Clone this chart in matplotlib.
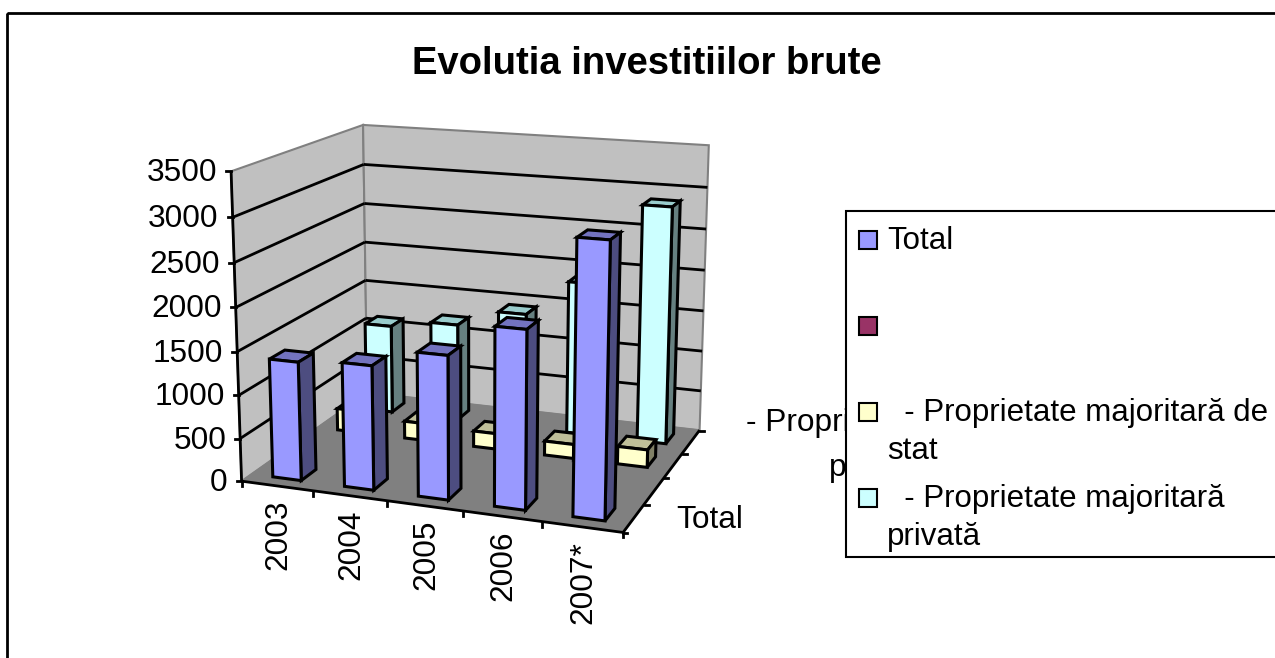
import numpy as np
import matplotlib
matplotlib.use("Agg")
import matplotlib.pyplot as plt
from matplotlib.patches import Polygon, Rectangle

plt.rcParams['font.family'] = ['Liberation Sans', 'DejaVu Sans']

# ---- data
title = "Evolutia investitiilor brute"
categories = ["2003", "2004", "2005", "2006", "2007*"]
total = [1375, 1425, 1630, 2000, 3020]
stat = [270, 210, 190, 170, 210]
private = [1110, 1210, 1425, 1875, 2865]
z_ticks = [0, 500, 1000, 1500, 2000, 2500, 3000, 3500]
legend_labels = ["Total", "", "  - Proprietate majoritară de\nstat", "  - Proprietate majoritară\nprivată"]
depth_labels = ["Total", "- Propri", "p"]

W, H = 1275, 658
FS = 22.8
FS_LEG = 22.5
fig = plt.figure(figsize=(W / 100, H / 100), dpi=100)
ax = fig.add_axes([0, 0, 1, 1])
ax.set_xlim(0, W)
ax.set_ylim(H, 0)
ax.axis("off")

# ---- projective camera fitted to the box corners (category, series, value) -> pixels
NX, NY, ZMAX = len(categories), 4, z_ticks[-1]
box = [(0, 0, ZMAX), (0, NY, ZMAX), (NX, NY, ZMAX), (0, 0, 0), (NX, 0, 0), (NX, NY, 0), (0, NY, 0)]
pix = [(230.7, 171), (363.5, 125), (708.7, 145.5), (242.3, 481), (622.7, 533), (700, 429.5), (366.5, 393)]
A = []
for (x, y, z), (u, v) in zip(box, pix):
    A.append([x, y, z, 1, 0, 0, 0, 0, -u * x, -u * y, -u * z])
    A.append([0, 0, 0, 0, x, y, z, 1, -v * x, -v * y, -v * z])
b = np.array(pix).ravel()
P = np.append(np.linalg.lstsq(np.array(A, float), b, rcond=None)[0], 1.0).reshape(3, 4)


def proj(x, y, z):
    q = P @ np.array([x, y, z, 1.0])
    return q[0] / q[2], q[1] / q[2]


def face(pts, fc, ec="black", lw=2.2, z=2):
    ax.add_patch(Polygon([proj(*p) for p in pts], closed=True, fc=fc, ec=ec, lw=lw,
                         joinstyle="miter", zorder=z))


def line(p, q, color="black", lw=2.0, z=1.5):
    a, b_ = proj(*p), proj(*q)
    ax.plot([a[0], b_[0]], [a[1], b_[1]], color=color, lw=lw, zorder=z, solid_capstyle="butt")


# walls and floor
face([(0, 0, 0), (0, NY, 0), (0, NY, ZMAX), (0, 0, ZMAX)], "#C0C0C0", "#808080", 1.5, 1)
face([(0, NY, 0), (NX, NY, 0), (NX, NY, ZMAX), (0, NY, ZMAX)], "#C0C0C0", "#808080", 1.5, 1)
face([(0, 0, 0), (NX, 0, 0), (NX, NY, 0), (0, NY, 0)], "#808080", "#808080", 1.0, 1.2)

# gridlines and ticks
for t in z_ticks[1:-1]:
    line((0, 0, t), (0, NY, t))
    line((0, NY, t), (NX, NY, t))
line((0, 0, 0), (0, 0, ZMAX))
line((0, 0, 0), (NX, 0, 0))
line((NX, 0, 0), (NX, NY, 0))
for t in z_ticks:
    u, v = proj(0, 0, t)
    ax.plot([u - 5, u], [v, v], color="black", lw=2, zorder=1.5)
    ax.text(u - 14, v + 2, str(t), ha="right", va="center", fontsize=FS, zorder=5)
for i in range(NX + 1):
    u, v = proj(i, 0, 0)
    ax.plot([u, u], [v, v + 5], color="black", lw=2, zorder=1.5)
for j in range(NY + 1):
    u, v = proj(NX, j, 0)
    ax.plot([u, u + 4], [v + 1, v + 1], color="black", lw=2, zorder=1.5)
for i, c in enumerate(categories):
    u, v = proj(i + 0.5, 0, 0)
    ax.text(u + 1, v + 14, c, rotation=90, ha="center", va="top", fontsize=FS, zorder=5)

# bars
BX, BY = 0.30, 0.28
series = [(3, private, "#CCFFFF", "#99CCCC", "#668080"),
          (2, stat, "#FFFFCC", "#BFBF99", "#808066"),
          (0, total, "#9999FF", "#7373BF", "#4D4D80")]
order = 3
for row, vals, c_front, c_top, c_side in series:
    for i, val in enumerate(vals):
        x0, x1 = i + BX, i + 1 - BX
        y0, y1 = row + BY, row + 1 - BY
        face([(x0, y0, 0), (x1, y0, 0), (x1, y0, val), (x0, y0, val)], c_front, z=order + 0.2)
        face([(x0, y0, val), (x1, y0, val), (x1, y1, val), (x0, y1, val)], c_top, z=order)
        face([(x1, y0, 0), (x1, y1, 0), (x1, y1, val), (x1, y0, val)], c_side, z=order + 0.1)
        order += 0.5

# depth axis labels (the legend hides the rest of the wrapped label in the reference)
ax.text(676, 520, depth_labels[0], ha="left", va="center", fontsize=FS, zorder=5)
ax.text(746, 423, depth_labels[1], ha="left", va="center", fontsize=FS, zorder=5)
ax.text(829, 468, depth_labels[2], ha="left", va="center", fontsize=FS, zorder=5)

# title
ax.text(647, 64, title, ha="center", va="center", fontsize=27.5, fontweight="bold", zorder=5)

# chart frame
ax.add_patch(Rectangle((7, 13), 1300, 700, fc="none", ec="black", lw=2, zorder=20))

# legend
ax.add_patch(Rectangle((846, 211), 460, 346, fc="white", ec="black", lw=1.5, zorder=30))
swatch_colors = ["#9999FF", "#993366", "#FFFFCC", "#CCFFFF"]
swatch_y = [231, 317, 403, 489]
for lab, col, sy in zip(legend_labels, swatch_colors, swatch_y):
    ax.add_patch(Rectangle((859, sy), 18, 18, fc=col, ec="black", lw=1.5, zorder=31))
    parts = lab.split("\n")
    ax.text(887, sy + 10, parts[0], ha="left", va="center", fontsize=FS_LEG, zorder=32)
    if len(parts) > 1:
        ax.text(887, sy + 48, parts[1], ha="left", va="center", fontsize=FS_LEG, zorder=32)

fig.savefig("out.png", dpi=100, facecolor="white")
